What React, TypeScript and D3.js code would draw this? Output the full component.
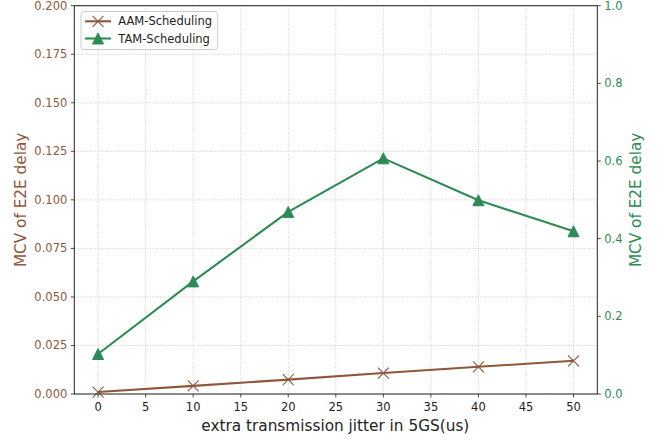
import React from "react";
import * as d3 from "d3";

const jitter = [0, 10, 20, 30, 40, 50];
const aamValues = [0.001, 0.0042, 0.0074, 0.0108, 0.0140, 0.0171];
const tamValues = [0.103, 0.290, 0.469, 0.607, 0.499, 0.419];
const xTicks = [0, 5, 10, 15, 20, 25, 30, 35, 40, 45, 50];
const leftTicks = [0, 0.025, 0.05, 0.075, 0.1, 0.125, 0.15, 0.175, 0.2];
const rightTicks = [0, 0.2, 0.4, 0.6, 0.8, 1.0];
const seriesNames = ["AAM-Scheduling", "TAM-Scheduling"];

const W = 665, H = 440;
const L = 74.3, R = 597.3, T = 5.7, B = 394;
const BROWN = "#8f573a";
const GREEN = "#2e8b57";
const FONT = "DejaVu Sans, sans-serif";

export default function App() {
  const x = d3.scaleLinear().domain([-2.5, 52.5]).range([L, R]);
  const yL = d3.scaleLinear().domain([0, 0.2]).range([B, T]);
  const yR = d3.scaleLinear().domain([0, 1]).range([B, T]);
  const fmtL = d3.format(".3f");
  const fmtR = d3.format(".1f");

  const aamLine = d3.line<number>().x((_, i) => x(jitter[i])).y((d) => yL(d))(aamValues) || "";
  const tamLine = d3.line<number>().x((_, i) => x(jitter[i])).y((d) => yR(d))(tamValues) || "";

  const xm = 5.5;
  const tri = (cx: number, cy: number, s: number) =>
    `M${cx},${cy - s}L${cx - s},${cy + s}L${cx + s},${cy + s}Z`;
  const cross = (cx: number, cy: number, s: number) =>
    `M${cx - s},${cy - s}L${cx + s},${cy + s}M${cx - s},${cy + s}L${cx + s},${cy - s}`;

  return (
    <svg width={W} height={H} style={{ position: "absolute", left: 0, top: 0 }} fontFamily={FONT}>
      <rect width={W} height={H} fill="white" />
      {/* grid */}
      <g stroke="#b0b0b0" strokeWidth={0.8} strokeDasharray="1,1.6" opacity={0.8}>
        {xTicks.map((t) => (
          <line key={"gx" + t} x1={x(t)} x2={x(t)} y1={T} y2={B} />
        ))}
        {leftTicks.map((t) => (
          <line key={"gy" + t} x1={L} x2={R} y1={yL(t)} y2={yL(t)} />
        ))}
      </g>
      {/* AAM */}
      <path d={aamLine} fill="none" stroke={BROWN} strokeWidth={2.1} />
      {aamValues.map((v, i) => (
        <path key={"a" + i} d={cross(x(jitter[i]), yL(v), xm)} stroke={BROWN} strokeWidth={1.1} fill="none" />
      ))}
      {/* TAM */}
      <path d={tamLine} fill="none" stroke={GREEN} strokeWidth={2.1} />
      {tamValues.map((v, i) => (
        <path key={"t" + i} d={tri(x(jitter[i]), yR(v), xm)} fill={GREEN} stroke={GREEN} strokeWidth={1} />
      ))}
      {/* spines */}
      <rect x={L} y={T} width={R - L} height={B - T} fill="none" stroke="#222" strokeWidth={1} />
      {/* x ticks */}
      {xTicks.map((t) => (
        <g key={"xt" + t}>
          <line x1={x(t)} x2={x(t)} y1={B} y2={B + 3.5} stroke="#222" strokeWidth={0.8} />
          <text x={x(t)} y={B + 17} textAnchor="middle" fontSize={11.5} fill="#222">{t}</text>
        </g>
      ))}
      {/* left ticks */}
      {leftTicks.map((t) => (
        <g key={"lt" + t}>
          <line x1={L - 3.5} x2={L} y1={yL(t)} y2={yL(t)} stroke="#222" strokeWidth={0.8} />
          <text x={L - 7} y={yL(t)} dy="0.35em" textAnchor="end" fontSize={11.5} fill={BROWN}>{fmtL(t)}</text>
        </g>
      ))}
      {/* right ticks */}
      {rightTicks.map((t) => (
        <g key={"rt" + t}>
          <line x1={R} x2={R + 3.5} y1={yR(t)} y2={yR(t)} stroke="#222" strokeWidth={0.8} />
          <text x={R + 7} y={yR(t)} dy="0.35em" textAnchor="start" fontSize={11.5} fill={GREEN}>{fmtR(t)}</text>
        </g>
      ))}
      {/* axis labels */}
      <text x={(L + R) / 2 - 0.5} y={430.5} textAnchor="middle" fontSize={15.3} fill="#222">extra transmission jitter in 5GS(us)</text>
      <text transform={`translate(26,${(T + B) / 2}) rotate(-90)`} textAnchor="middle" fontSize={15.3} fill={BROWN}>MCV of E2E delay</text>
      <text transform={`translate(640.5,${(T + B) / 2}) rotate(-90)`} textAnchor="middle" fontSize={15.3} fill={GREEN}>MCV of E2E delay</text>
      {/* legend */}
      <g>
        <rect x={81} y={11.5} width={136.7} height={38} rx={3} fill="white" fillOpacity={0.8} stroke="#cccccc" strokeWidth={1} />
        <line x1={85} x2={111} y1={21.3} y2={21.3} stroke={BROWN} strokeWidth={2.1} />
        <path d={cross(98, 21.3, xm)} stroke={BROWN} strokeWidth={1.1} fill="none" />
        <text x={118.3} y={21.3} dy="0.35em" fontSize={11.5} fill="#222">{seriesNames[0]}</text>
        <line x1={85} x2={111} y1={38.5} y2={38.5} stroke={GREEN} strokeWidth={2.1} />
        <path d={tri(98, 38.5, xm)} fill={GREEN} stroke={GREEN} strokeWidth={1} />
        <text x={118.3} y={38.5} dy="0.35em" fontSize={11.5} fill="#222">{seriesNames[1]}</text>
      </g>
    </svg>
  );
}
